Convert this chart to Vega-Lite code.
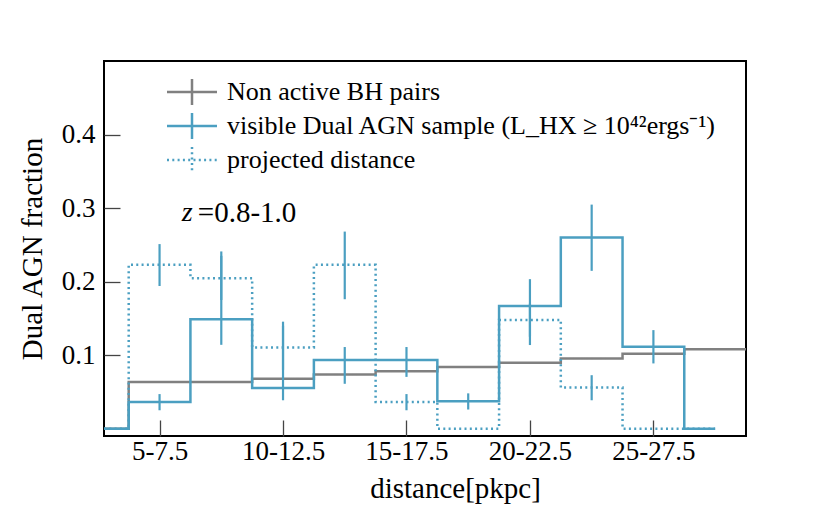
{
  "$schema": "https://vega.github.io/schema/vega-lite/v6.json",
  "width": 642,
  "height": 375,
  "autosize": {"type": "none"},
  "padding": {"left": 104, "top": 61, "right": 84, "bottom": 77},
  "background": "white",
  "config": {
    "view": {"stroke": "black", "strokeWidth": 2},
    "font": "Liberation Serif",
    "axis": {
      "domain": false,
      "grid": false,
      "labelFont": "Liberation Serif",
      "labelFontSize": 27,
      "labelColor": "black",
      "titleFont": "Liberation Serif",
      "titleFontSize": 29,
      "titleFontWeight": "normal",
      "titleColor": "black",
      "tickColor": "#444444",
      "tickWidth": 1.3,
      "tickSize": -16
    }
  },
  "datasets": {
    "steps": [
      {"series": "Non active BH pairs", "x": 4, "y": 0},
      {"series": "Non active BH pairs", "x": 5, "y": 0.0636},
      {"series": "Non active BH pairs", "x": 10, "y": 0.068},
      {"series": "Non active BH pairs", "x": 12.5, "y": 0.0737},
      {"series": "Non active BH pairs", "x": 15, "y": 0.078},
      {"series": "Non active BH pairs", "x": 17.5, "y": 0.084},
      {"series": "Non active BH pairs", "x": 20, "y": 0.0895},
      {"series": "Non active BH pairs", "x": 22.5, "y": 0.0955},
      {"series": "Non active BH pairs", "x": 25, "y": 0.102},
      {"series": "Non active BH pairs", "x": 27.5, "y": 0.108},
      {"series": "Non active BH pairs", "x": 30, "y": 0.108},
      {"series": "projected distance", "x": 4, "y": 0},
      {"series": "projected distance", "x": 5, "y": 0.2228},
      {"series": "projected distance", "x": 7.5, "y": 0.2046},
      {"series": "projected distance", "x": 10, "y": 0.1105},
      {"series": "projected distance", "x": 12.5, "y": 0.2228},
      {"series": "projected distance", "x": 15, "y": 0.0364},
      {"series": "projected distance", "x": 17.5, "y": 0},
      {"series": "projected distance", "x": 20, "y": 0.1477},
      {"series": "projected distance", "x": 22.5, "y": 0.056},
      {"series": "projected distance", "x": 25, "y": 0},
      {"series": "projected distance", "x": 27.5, "y": 0},
      {"series": "projected distance", "x": 28.75, "y": 0},
      {"series": "visible Dual AGN sample (L_HX ≥ 10⁴²ergs⁻¹)", "x": 4, "y": 0},
      {"series": "visible Dual AGN sample (L_HX ≥ 10⁴²ergs⁻¹)", "x": 5, "y": 0.0364},
      {"series": "visible Dual AGN sample (L_HX ≥ 10⁴²ergs⁻¹)", "x": 7.5, "y": 0.1487},
      {"series": "visible Dual AGN sample (L_HX ≥ 10⁴²ergs⁻¹)", "x": 10, "y": 0.0554},
      {"series": "visible Dual AGN sample (L_HX ≥ 10⁴²ergs⁻¹)", "x": 12.5, "y": 0.0932},
      {"series": "visible Dual AGN sample (L_HX ≥ 10⁴²ergs⁻¹)", "x": 15, "y": 0.0932},
      {"series": "visible Dual AGN sample (L_HX ≥ 10⁴²ergs⁻¹)", "x": 17.5, "y": 0.0372},
      {"series": "visible Dual AGN sample (L_HX ≥ 10⁴²ergs⁻¹)", "x": 20, "y": 0.1668},
      {"series": "visible Dual AGN sample (L_HX ≥ 10⁴²ergs⁻¹)", "x": 22.5, "y": 0.26},
      {"series": "visible Dual AGN sample (L_HX ≥ 10⁴²ergs⁻¹)", "x": 25, "y": 0.1114},
      {"series": "visible Dual AGN sample (L_HX ≥ 10⁴²ergs⁻¹)", "x": 27.5, "y": 0},
      {"series": "visible Dual AGN sample (L_HX ≥ 10⁴²ergs⁻¹)", "x": 28.75, "y": 0}
    ],
    "errors": [
      {"series": "visible", "x": 6.25, "lo": 0.025, "hi": 0.047},
      {"series": "visible", "x": 8.75, "lo": 0.114, "hi": 0.241},
      {"series": "visible", "x": 11.25, "lo": 0.0386, "hi": 0.1455},
      {"series": "visible", "x": 13.75, "lo": 0.061, "hi": 0.111},
      {"series": "visible", "x": 16.25, "lo": 0.0704, "hi": 0.111},
      {"series": "visible", "x": 18.75, "lo": 0.026, "hi": 0.048},
      {"series": "visible", "x": 21.25, "lo": 0.1137, "hi": 0.2033},
      {"series": "visible", "x": 23.75, "lo": 0.2146, "hi": 0.3047},
      {"series": "visible", "x": 26.25, "lo": 0.0887, "hi": 0.134},
      {"series": "projected", "x": 6.25, "lo": 0.194, "hi": 0.251},
      {"series": "projected", "x": 8.75, "lo": 0.175, "hi": 0.235},
      {"series": "projected", "x": 11.25, "lo": 0.08, "hi": 0.14},
      {"series": "projected", "x": 13.75, "lo": 0.176, "hi": 0.268},
      {"series": "projected", "x": 16.25, "lo": 0.025, "hi": 0.047},
      {"series": "projected", "x": 21.25, "lo": 0.125, "hi": 0.17},
      {"series": "projected", "x": 23.75, "lo": 0.0386, "hi": 0.0727}
    ],
    "note": [
      {"x": 7.15, "x2": 7.8, "y": 0.293, "z": "z", "label": "=0.8-1.0"}
    ]
  },
  "layer": [
    {
      "data": {"name": "steps"},
      "mark": {"type": "line", "interpolate": "step-after", "strokeWidth": 2.5, "clip": true},
      "encoding": {
        "x": {
          "field": "x", "type": "quantitative",
          "scale": {"domain": [4, 30], "nice": false, "zero": false},
          "axis": {
            "values": [6.25, 11.25, 16.25, 21.25, 26.25],
            "labelExpr": "format(datum.value - 1.25, 'd') + '-' + format(datum.value + 1.25, '.1f')",
            "labelPadding": 18,
            "title": "distance[pkpc]",
            "titlePadding": 10,
            "titleX": 351
          }
        },
        "y": {
          "field": "y", "type": "quantitative",
          "scale": {"domain": [-0.01, 0.5], "nice": false, "zero": false},
          "axis": {
            "values": [0.1, 0.2, 0.3, 0.4],
            "format": ".1f",
            "labelPadding": 25,
            "title": "Dual AGN fraction",
            "titlePadding": 14
          }
        },
        "color": {
          "field": "series", "type": "nominal",
          "scale": {
            "domain": ["Non active BH pairs", "visible Dual AGN sample (L_HX ≥ 10⁴²ergs⁻¹)", "projected distance"],
            "range": ["#808080", "#4b9fc1", "#4b9fc1"]
          },
          "legend": {
            "title": null,
            "orient": "none",
            "legendX": 74,
            "legendY": 17,
            "symbolType": "M-2,0H2M0,-1.04V1.04",
            "symbolSize": 625,
            "symbolStrokeWidth": 2.5,
            "labelFont": "Liberation Serif",
            "labelFontSize": 26,
            "labelColor": "black",
            "labelOffset": 21,
            "rowPadding": -2,
            "labelLimit": 700
          }
        },
        "strokeDash": {
          "field": "series", "type": "nominal",
          "scale": {
            "domain": ["Non active BH pairs", "visible Dual AGN sample (L_HX ≥ 10⁴²ergs⁻¹)", "projected distance"],
            "range": [[1, 0], [1, 0], [2, 3.3]]
          },
          "legend": null
        },
        "order": {"field": "x", "type": "quantitative"}
      }
    },
    {
      "data": {"name": "errors"},
      "mark": {"type": "rule", "color": "#4b9fc1", "strokeWidth": 2.2},
      "encoding": {
        "x": {"field": "x", "type": "quantitative"},
        "y": {"field": "lo", "type": "quantitative"},
        "y2": {"field": "hi"}
      }
    },
    {
      "data": {"name": "note"},
      "mark": {"type": "text", "font": "Liberation Serif", "fontStyle": "italic", "fontSize": 28, "align": "left", "baseline": "middle", "color": "black"},
      "encoding": {
        "x": {"field": "x", "type": "quantitative"},
        "y": {"field": "y", "type": "quantitative"},
        "text": {"field": "z"}
      }
    },
    {
      "data": {"name": "note"},
      "mark": {"type": "text", "font": "Liberation Serif", "fontSize": 29, "align": "left", "baseline": "middle", "color": "black"},
      "encoding": {
        "x": {"field": "x2", "type": "quantitative"},
        "y": {"field": "y", "type": "quantitative"},
        "text": {"field": "label"}
      }
    }
  ]
}
